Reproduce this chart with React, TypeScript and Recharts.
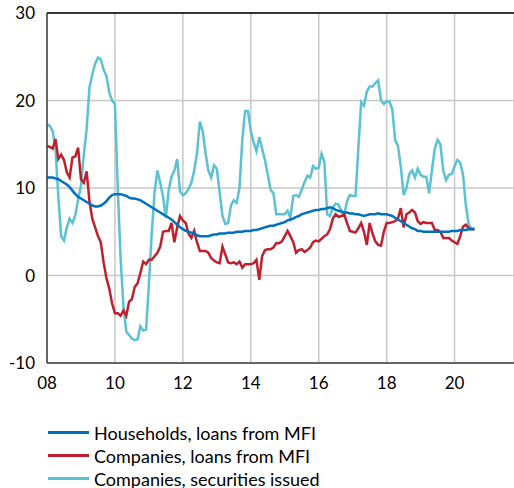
import { CartesianGrid, Line, LineChart, ReferenceLine, XAxis, YAxis } from "recharts";

// monthly values, Jan 2008 onwards
const households = [
  11.2, 11.2, 11.2, 11.1, 11.0, 10.8, 10.6, 10.4, 10.1, 9.7, 9.3, 9.0,
  8.8, 8.6, 8.4, 8.2, 8.0, 7.9, 7.9, 8.0, 8.2, 8.5, 8.9, 9.2,
  9.3, 9.3, 9.3, 9.2, 9.1, 8.9, 8.8, 8.8, 8.7, 8.6, 8.4, 8.2,
  8.0, 7.8, 7.6, 7.4, 7.2, 7.0, 6.8, 6.6, 6.4, 6.1, 5.8, 5.5,
  5.3, 5.1, 5.0, 4.9, 4.8, 4.6, 4.5, 4.5, 4.5, 4.5, 4.6, 4.7,
  4.7, 4.8, 4.8, 4.8, 4.9, 4.9, 4.9, 5.0, 5.0, 5.0, 5.1, 5.1,
  5.1, 5.2, 5.2, 5.3, 5.4, 5.5, 5.6, 5.7, 5.7, 5.8, 5.9, 6.0,
  6.1, 6.3, 6.4, 6.5, 6.7, 6.8, 7.0, 7.1, 7.2, 7.3, 7.4, 7.5,
  7.5, 7.6, 7.6, 7.7, 7.8, 7.7, 7.5, 7.4, 7.3, 7.2, 7.2, 7.1,
  7.1, 7.0, 7.0, 6.9, 6.8, 6.9, 7.0, 7.0, 7.0, 7.1, 7.0, 7.0,
  7.0, 6.9, 6.8, 6.6, 6.4, 6.2, 6.0, 5.8, 5.6, 5.4, 5.3, 5.1,
  5.1, 5.0, 5.0, 5.0, 5.0, 5.0, 5.0, 5.0, 5.0, 5.0, 5.0, 5.1,
  5.1, 5.1, 5.2, 5.2, 5.2, 5.3, 5.3, 5.3,
];

const companiesLoans = [
  14.8, 14.7, 14.5, 15.6, 13.3, 13.8, 13.2, 11.8, 11.2, 13.5, 13.6, 14.6,
  11.0, 10.6, 11.9, 8.5, 6.5, 5.5, 4.5, 3.8, 1.5, -0.3, -1.5, -3.2,
  -4.3, -4.3, -4.6, -4.0, -4.6, -3.0, -2.7, -1.3, -0.9, 0.3, 1.6, 1.3,
  1.8, 1.8, 2.2, 2.6, 3.3, 5.0, 5.1, 5.1, 6.0, 3.8, 5.5, 6.8,
  6.3, 6.0, 4.8, 4.3, 5.1, 3.8, 2.8, 2.8, 2.8, 2.6, 2.0, 1.7,
  1.5, 1.4, 3.3, 2.4, 1.5, 1.4, 1.5, 1.3, 1.6, 0.9, 1.3, 1.3,
  1.3, 1.4, 1.8, -0.5, 2.2, 2.9, 3.0, 3.0, 3.2, 3.7, 3.7, 3.9,
  4.5, 5.1, 4.5, 3.8, 2.6, 2.9, 3.0, 2.7, 2.9, 3.2, 3.8, 4.0,
  3.9, 4.2, 4.5, 4.7, 5.3, 6.5, 7.0, 6.7, 6.8, 7.0, 6.0, 5.1,
  5.0, 4.9, 5.4, 6.0, 5.0, 3.5, 6.0, 4.8, 3.9, 3.5, 3.4, 5.0,
  6.0, 6.0, 6.1, 6.2, 6.5, 7.7, 5.5, 7.0, 7.2, 7.5, 7.2, 6.2,
  5.9, 6.1, 6.0, 6.0, 6.0, 5.2, 5.2, 5.0, 4.3, 4.3, 4.3, 4.0,
  3.8, 3.6, 4.5, 5.6, 5.8, 5.4, 5.3, 5.3,
];

const companiesSecurities = [
  17.3, 17.1, 16.5, 14.5, 9.0, 4.5, 4.0, 5.5, 6.5, 6.0, 6.9, 8.7,
  10.2, 13.8, 16.7, 21.5, 23.0, 24.2, 24.9, 24.7, 23.5, 22.8, 20.9, 20.0,
  19.6, 10.0, 2.0, -3.5, -6.4, -6.8, -7.2, -7.4, -7.3, -5.8, -6.3, -6.2,
  -1.0, 4.8, 9.5, 12.0, 10.6, 9.0, 6.6, 9.8, 11.3, 12.0, 13.3, 9.6,
  9.2, 9.4, 9.9, 10.6, 12.0, 14.0, 17.6, 16.5, 14.0, 12.0, 11.2, 12.6,
  12.2, 9.5, 6.8, 5.9, 6.0, 8.0, 8.6, 8.3, 10.0, 15.5, 18.8, 18.8,
  16.5, 15.2, 14.2, 15.8, 14.5, 13.2, 11.5, 9.8, 9.4, 7.0, 7.0, 7.0,
  7.0, 7.4, 6.6, 9.1, 9.2, 9.0, 9.8, 10.7, 11.4, 11.2, 12.5, 12.2,
  12.3, 13.9, 13.0, 7.0, 6.8, 7.8, 8.2, 8.1, 7.4, 6.9, 8.5, 9.2,
  9.1, 9.1, 14.5, 19.8, 19.4, 21.0, 21.6, 21.6, 22.0, 22.3, 20.0, 19.6,
  19.9, 19.9, 19.0, 15.5, 14.8, 12.5, 9.2, 10.0, 11.6, 12.0, 11.2, 12.2,
  11.5, 11.3, 11.3, 9.4, 12.0, 14.5, 15.5, 15.0, 12.0, 10.9, 11.5, 11.6,
  12.5, 13.2, 12.9, 11.5, 8.0, 5.8, 5.4, 5.4,
];

const xTicks = [0, 24, 48, 72, 96, 120, 144];
const xTickLabels = ["08", "10", "12", "14", "16", "18", "20"];
const yTicks = [-10, 0, 10, 20, 30];

const seriesNames = [
  "Households, loans from MFI",
  "Companies, loans from MFI",
  "Companies, securities issued",
];
const colors = ["#0070c0", "#c0202e", "#5bc2d2"];

const data = households.map((hh, i) => ({
  m: i,
  hh,
  co: companiesLoans[i],
  sec: companiesSecurities[i],
}));

const font = "Lato, 'Open Sans', sans-serif";

function LegendBox() {
  return (
    <div style={{ position: "absolute", left: 48, top: 421, fontFamily: font, fontSize: 18, color: "#000" }}>
      {seriesNames.map((name, i) => (
        <div key={name} style={{ display: "flex", alignItems: "center", height: 23, whiteSpace: "nowrap" }}>
          <span
            style={{ display: "inline-block", width: 41, height: 3, background: colors[i], marginRight: 5 }}
          />
          {name}
        </div>
      ))}
    </div>
  );
}

export default function App() {
  return (
    <div style={{ position: "absolute", left: 0, top: 0, width: 514, height: 488, overflow: "hidden" }}>
      <LineChart width={514} height={488} data={data} margin={{ top: 13, right: 0, left: 7, bottom: 100 }}>
        <CartesianGrid stroke="#c8c8c8" strokeWidth={1.5} />
        <XAxis
          dataKey="m"
          type="number"
          domain={[0, 165]}
          ticks={xTicks}
          tickFormatter={(v: number) => xTickLabels[xTicks.indexOf(v)]}
          tick={{ fill: "#000", fontSize: 17, fontFamily: font }}
          tickLine={false}
          axisLine={{ stroke: "#404040", strokeWidth: 1.5 }}
          tickMargin={8}
          height={25}
        />
        <YAxis
          type="number"
          domain={[-10, 30]}
          ticks={yTicks}
          tick={{ fill: "#000", fontSize: 17, fontFamily: font }}
          tickLine={false}
          axisLine={{ stroke: "#404040", strokeWidth: 1.5 }}
          width={40}
          tickMargin={6}
        />
        <ReferenceLine y={30} stroke="#000" strokeWidth={1.5} />
        <Line dataKey="sec" stroke={colors[2]} strokeWidth={2.5} dot={false} isAnimationActive={false} />
        <Line dataKey="co" stroke={colors[1]} strokeWidth={2.5} dot={false} isAnimationActive={false} />
        <Line dataKey="hh" stroke={colors[0]} strokeWidth={2.5} dot={false} isAnimationActive={false} />
      </LineChart>
      <LegendBox />
    </div>
  );
}
